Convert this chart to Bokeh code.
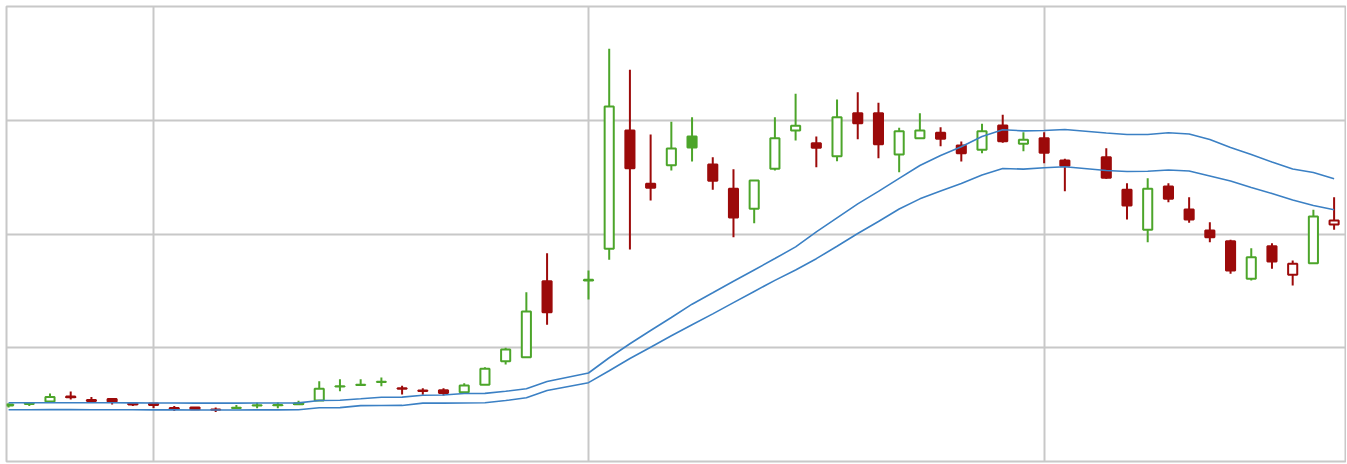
from bokeh.plotting import figure
from bokeh.models import ColumnDataSource, FixedTicker, Grid, Range1d
from bokeh.embed import file_html
from bokeh.resources import INLINE

# ---- data (trading-day index; days 27 and 52 have no data) ----
day = list(range(0, 27)) + list(range(28, 52)) + list(range(53, 65))

open_ = [4.92, 5.05, 5.27, 5.72, 5.41, 5.49, 5.10, 5.10, 4.70, 4.75,
         4.57, 4.70, 4.93, 4.94, 5.04, 5.36, 6.59, 6.73, 6.99, 6.44,
         6.24, 6.27, 6.09, 6.74, 8.82, 9.17, 15.85,
         15.91, 18.70, 29.10, 24.41, 26.05, 28.57, 26.11, 23.97, 22.22, 25.73,
         29.10, 27.98, 26.84, 30.62, 30.62, 26.99, 28.42, 28.90, 27.78, 27.40,
         29.54, 27.93, 28.42, 26.46,
         26.75, 23.89, 20.37, 24.18, 22.15, 20.31, 19.37, 16.06, 18.93, 16.41,
         17.43, 20.84]
high = [5.10, 5.14, 5.98, 6.15, 5.67, 5.54, 5.14, 5.11, 4.88, 4.75,
        4.75, 4.97, 5.16, 5.19, 5.34, 7.06, 7.24, 7.24, 7.38, 6.65,
        6.44, 6.44, 6.88, 8.29, 10.00, 14.88, 18.31,
        16.79, 36.28, 34.43, 28.75, 29.86, 30.27, 26.75, 25.70, 24.75, 30.27,
        32.33, 28.57, 31.82, 32.47, 31.53, 29.34, 30.62, 29.39, 28.13, 29.69,
        30.48, 28.95, 28.95, 26.61,
        27.54, 24.47, 24.91, 24.47, 23.24, 21.04, 19.49, 18.75, 19.19, 17.67,
        22.13, 23.24]
low = [4.75, 4.88, 5.23, 5.45, 5.30, 5.01, 4.88, 4.70, 4.44, 4.60,
       4.35, 4.63, 4.69, 4.69, 5.01, 5.32, 6.18, 6.72, 6.62, 5.89,
       5.86, 5.80, 6.00, 6.72, 8.53, 9.12, 12.02,
       14.24, 17.73, 18.64, 22.95, 25.58, 26.37, 23.89, 19.72, 20.95, 25.58,
       28.22, 25.87, 26.40, 28.33, 26.66, 25.43, 28.40, 27.72, 26.37, 27.10,
       28.02, 27.28, 26.22, 23.76,
       24.85, 21.27, 19.28, 22.80, 20.98, 19.28, 16.50, 15.91, 16.94, 15.47,
       17.40, 20.37]
close = [5.01, 5.10, 5.67, 5.65, 5.32, 5.27, 5.01, 4.97, 4.63, 4.60,
         4.55, 4.72, 4.95, 4.96, 5.13, 6.39, 6.62, 6.75, 7.01, 6.40,
         6.20, 6.02, 6.68, 8.15, 9.85, 13.19, 13.13,
         15.97, 31.21, 25.78, 24.06, 27.52, 27.60, 24.68, 21.45, 24.70, 28.42,
         29.51, 27.58, 30.27, 29.74, 27.89, 29.04, 29.10, 28.37, 27.10, 29.04,
         28.16, 28.28, 27.14, 25.99,
         24.94, 22.51, 23.97, 23.09, 21.27, 19.72, 16.79, 17.96, 17.58, 17.38,
         21.54, 21.19]

env_upper = [5.16, 5.16, 5.17, 5.17, 5.16, 5.16, 5.15, 5.14, 5.14, 5.13,
             5.13, 5.13, 5.14, 5.14, 5.15, 5.36, 5.38, 5.51, 5.65, 5.66,
             5.83, 5.84, 5.98, 5.99, 6.18, 6.39, 7.03,
             7.78, 9.12, 10.35, 11.52, 12.66, 13.83, 14.83, 15.84, 16.84, 17.84,
             18.87, 20.19, 21.42, 22.65, 23.75, 24.89, 26.02, 26.90, 27.67, 28.57,
             29.16, 29.07, 29.10, 29.19,
             28.88, 28.75, 28.75, 28.90, 28.79, 28.31, 27.60, 26.99, 26.33, 25.71,
             25.41, 24.85]
env_lower = [4.55, 4.55, 4.56, 4.56, 4.55, 4.55, 4.55, 4.54, 4.54, 4.53,
             4.53, 4.53, 4.54, 4.54, 4.55, 4.72, 4.74, 4.91, 4.92, 4.93,
             5.13, 5.13, 5.14, 5.17, 5.36, 5.60, 6.24,
             6.93, 7.98, 9.05, 10.05, 11.05, 12.02, 12.98, 13.97, 14.95, 15.92,
             16.84, 17.83, 18.92, 20.04, 21.10, 22.20, 23.09, 23.78, 24.44, 25.19,
             25.76, 25.70, 25.82, 25.91,
             25.58, 25.49, 25.52, 25.63, 25.54, 25.10, 24.66, 24.09, 23.56, 22.99,
             22.51, 22.13]

x_grid_days = [7, 28, 50]
y_grid_values = [10, 20, 30]

# ---- styles ----
GREEN = "#4ca52a"
RED = "#9c0a0a"
BLUE = "#3b80c4"
GRID = "#c8c8c8"

colors, fills, tops, bottoms = [], [], [], []
for i in range(len(day)):
    up = True if i == 0 else close[i] >= close[i - 1]
    c = GREEN if up else RED
    colors.append(c)
    fills.append("white" if close[i] >= open_[i] else c)
    tops.append(max(open_[i], close[i]))
    bottoms.append(min(open_[i], close[i]))

src = ColumnDataSource(dict(day=day, open=open_, high=high, low=low, close=close,
                            color=colors, fill=fills, top=tops, bottom=bottoms))

p = figure(width=1346, height=463, output_backend="svg", toolbar_location=None,
           x_axis_location=None, y_axis_location=None,
           x_range=Range1d(-0.1, 64.55), y_range=Range1d(0, 40),
           min_border_left=6, min_border_top=6, min_border_right=1,
           min_border_bottom=2,
           background_fill_color="white", border_fill_color="white")
p.outline_line_color = GRID
p.outline_line_width = 2
for g in p.grid:
    g.visible = False

p.add_layout(Grid(dimension=0, ticker=FixedTicker(ticks=x_grid_days),
                  grid_line_color=GRID, grid_line_width=2))
p.add_layout(Grid(dimension=1, ticker=FixedTicker(ticks=y_grid_values),
                  grid_line_color=GRID, grid_line_width=2))

p.segment(x0="day", y0="low", x1="day", y1="high", source=src,
          line_color="color", line_width=2)
p.vbar(x="day", width=0.44, top="top", bottom="bottom", source=src,
       fill_color="fill", line_color="color", line_width=2)

p.line(day, env_upper, line_color=BLUE, line_width=1.6)
p.line(day, env_lower, line_color=BLUE, line_width=1.6)

open("out.html", "w").write(file_html(p, INLINE))
